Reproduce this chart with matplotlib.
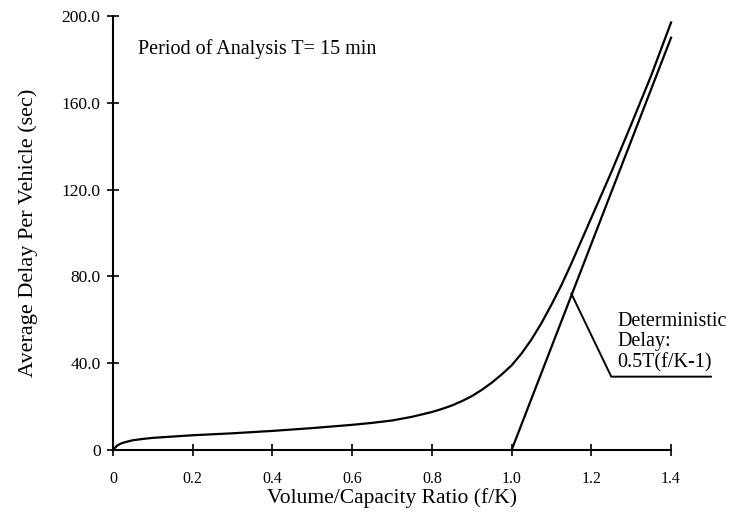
import matplotlib
matplotlib.use("Agg")
import matplotlib.pyplot as plt

plt.rcParams['font.family'] = ['Liberation Serif', 'DejaVu Serif']

# total average delay curve
vc_ratio = [0.0, 0.01, 0.02, 0.03, 0.05, 0.075, 0.1, 0.15, 0.2, 0.3, 0.4, 0.5,
            0.6, 0.65, 0.7, 0.75, 0.8, 0.825, 0.85, 0.875, 0.9, 0.925, 0.95,
            0.975, 1.0, 1.025, 1.05, 1.075, 1.1, 1.125, 1.15, 1.175, 1.2,
            1.25, 1.3, 1.35, 1.4]
avg_delay = [0.0, 2.0, 3.0, 3.6, 4.5, 5.1, 5.6, 6.2, 6.8, 7.7, 8.8, 10.1,
             11.6, 12.5, 13.6, 15.3, 17.5, 18.9, 20.5, 22.5, 24.8, 27.7, 31.0,
             34.8, 39.0, 44.5, 51.0, 58.5, 67.0, 76.0, 86.0, 96.5, 107.0,
             128.0, 150.0, 172.5, 197.0]

# deterministic delay line 0.5T(f/K-1)
det_x = [1.0, 1.4]
det_y = [0.0, 190.0]

# leader line for the label
leader_x = [1.15, 1.25, 1.50]
leader_y = [72.0, 33.8, 33.8]

xticks = [0, 0.2, 0.4, 0.6, 0.8, 1.0, 1.2, 1.4]
xtick_labels = ["0", "0.2", "0.4", "0.6", "0.8", "1.0", "1.2", "1.4"]
yticks = [0, 40, 80, 120, 160, 200]
ytick_labels = ["0", "40.0", "80.0", "120.0", "160.0", "200.0"]

fig = plt.figure(figsize=(7.31, 5.13), dpi=100)
ax = fig.add_axes([0.1546, 0.1228, 0.7634, 0.846])

ax.plot(vc_ratio, avg_delay, color="black", lw=1.6, clip_on=False)
ax.plot(det_x, det_y, color="black", lw=1.6, clip_on=False)
ax.plot(leader_x, leader_y, color="black", lw=1.4, clip_on=False)

ax.set_xlim(0, 1.4)
ax.set_ylim(0, 200)
ax.set_xticks(xticks)
ax.set_xticklabels(xtick_labels)
ax.set_yticks(yticks)
ax.set_yticklabels(ytick_labels)

for s in ["top", "right"]:
    ax.spines[s].set_visible(False)
for s in ["left", "bottom"]:
    ax.spines[s].set_linewidth(1.5)

ax.tick_params(axis="both", direction="inout", length=8, width=1.2)
ax.tick_params(axis="x", pad=11, labelsize=11.5)
ax.tick_params(axis="y", pad=5, labelsize=12.5)

ax.set_xlabel("Volume/Capacity Ratio (f/K)", fontsize=15.5, labelpad=1)
ax.set_ylabel("Average Delay Per Vehicle (sec)", fontsize=16, labelpad=17)

ax.text(0.063, 185, "Period of Analysis T= 15 min", fontsize=14.5,
        va="center", ha="left")
ax.text(1.265, 59, "Deterministic", fontsize=14.5, va="center", ha="left",
        clip_on=False)
ax.text(1.265, 50, "Delay:", fontsize=14.5, va="center", ha="left",
        clip_on=False)
ax.text(1.265, 40, "0.5T(f/K-1)", fontsize=14.5, va="center", ha="left",
        clip_on=False)

fig.savefig("out.png", dpi=100)
